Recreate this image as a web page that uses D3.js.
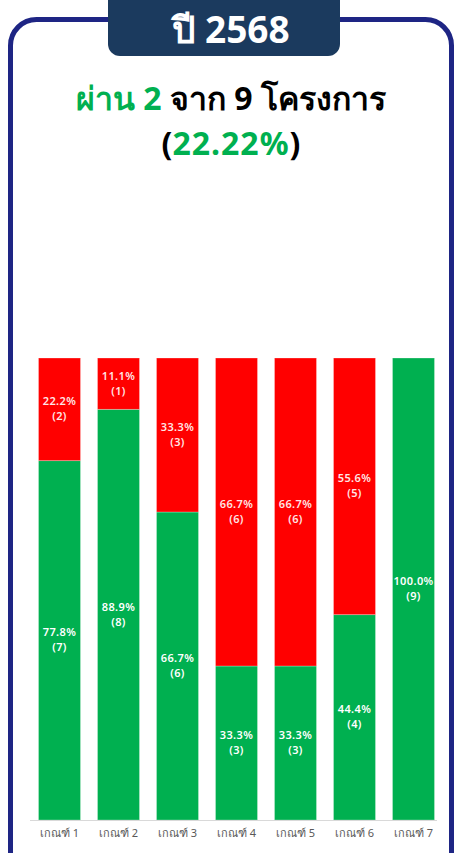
<!DOCTYPE html>
<html><head><meta charset="utf-8">
<script src="https://cdn.jsdelivr.net/npm/d3@7"></script>
<style>
html,body{margin:0;padding:0;background:#fff;}
svg{display:block;}
</style></head>
<body><svg id="c" width="462" height="853"></svg>
<script>
const categories = ["เกณฑ์ 1","เกณฑ์ 2","เกณฑ์ 3","เกณฑ์ 4","เกณฑ์ 5","เกณฑ์ 6","เกณฑ์ 7"];
const passCounts = [7, 8, 6, 3, 3, 4, 9];
const failCounts = [2, 1, 3, 6, 6, 5, 0];
const totalProjects = 9;
const passedProjects = 2;
const yearLabel = "ปี 2568";

const svg = d3.select("#c");
const font = "'Noto Sans', 'DejaVu Sans', sans-serif";

// frame
svg.append("rect").attr("x",10.5).attr("y",19.5).attr("width",441).attr("height",860)
  .attr("rx",26).attr("fill","#fff").attr("stroke","#1e2584").attr("stroke-width",5);

// badge
svg.append("rect").attr("x",108).attr("y",-12).attr("width",232).attr("height",68)
  .attr("rx",12).attr("fill","#1b3a5e");
svg.append("text").attr("x",231).attr("y",43).attr("text-anchor","middle")
  .attr("fill","#fff").attr("font-family",font).attr("font-weight","bold").attr("font-size",37)
  .text(yearLabel);

// subtitle
const pct = (passedProjects/totalProjects*100).toFixed(2);
const t1 = svg.append("text").attr("x",231).attr("y",110).attr("text-anchor","middle")
  .attr("font-family",font).attr("font-weight","bold").attr("font-size",32);
t1.append("tspan").attr("fill","#00b050").text("ผ่าน " + passedProjects);
t1.append("tspan").attr("fill","#000").text(" จาก " + totalProjects + " โครงการ");
const t2 = svg.append("text").attr("x",231).attr("y",155).attr("text-anchor","middle")
  .attr("font-family",font).attr("font-weight","bold").attr("font-size",32);
t2.append("tspan").attr("fill","#000").text("(");
t2.append("tspan").attr("fill","#00b050").attr("letter-spacing",1).text(pct + "%");
t2.append("tspan").attr("fill","#000").text(")");

// chart
const x = d3.scaleBand().domain(categories).range([30,443]).paddingInner(0.288).paddingOuter(0.144);
const y = d3.scaleLinear().domain([0,1]).range([820,358]);

const rows = categories.map((c,i)=>({cat:c, pass:passCounts[i], fail:failCounts[i], total:passCounts[i]+failCounts[i]}));
const stack = d3.stack().keys(["pass","fail"]).value((d,k)=>d[k]/d.total)(rows);
const colors = {pass:"#00b050", fail:"#ff0000"};
const g = svg.append("g");
stack.forEach(layer=>{
  const key = layer.key;
  g.selectAll(null).data(layer.filter(d=>d[1]-d[0]>0)).join("rect")
    .attr("x",d=>x(d.data.cat)).attr("width",x.bandwidth())
    .attr("y",d=>y(d[1])).attr("height",d=>y(d[0])-y(d[1]))
    .attr("fill",colors[key]).attr("stroke","rgba(255,255,255,0.35)").attr("stroke-width",0.8);
  const lab = g.selectAll(null).data(layer.filter(d=>d[1]-d[0]>0)).join("text")
    .attr("text-anchor","middle").attr("font-family",font).attr("font-weight",600)
    .attr("letter-spacing",0.4)
    .attr("font-size",11).attr("fill", key==="fail" ? "#ffe6e6" : "#ffffff");
  lab.append("tspan").attr("x",d=>x(d.data.cat)+x.bandwidth()/2)
    .attr("y",d=>(y(d[0])+y(d[1]))/2 - 4)
    .text(d=>((d[1]-d[0])*100).toFixed(1)+"%");
  lab.append("tspan").attr("x",d=>x(d.data.cat)+x.bandwidth()/2)
    .attr("y",d=>(y(d[0])+y(d[1]))/2 + 11)
    .text(d=>"(" + d.data[key] + ")");
});

// axis
const ax = svg.append("g").attr("transform","translate(0,820)")
  .call(d3.axisBottom(x).tickSize(0).tickPadding(9));
ax.select(".domain").attr("stroke","#d9d9d9").attr("stroke-width",1.2).attr("d","M30,0.5H437");
ax.selectAll("text").attr("font-family",font).attr("font-size",11).attr("fill","#595959");
</script></body></html>
